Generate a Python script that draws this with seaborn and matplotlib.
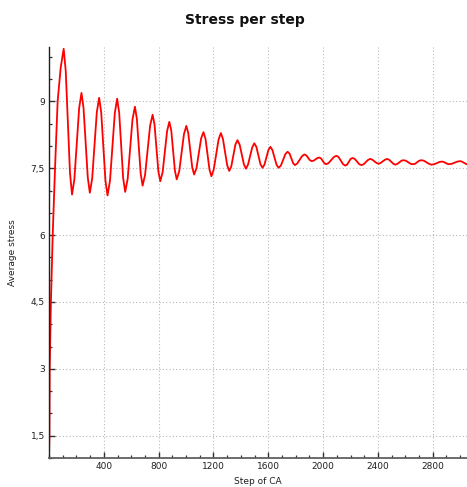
import matplotlib
matplotlib.use("Agg")
import matplotlib.pyplot as plt
from matplotlib.ticker import MultipleLocator, FixedLocator, FixedFormatter
import seaborn as sns
import pandas as pd

# Points (rise, peaks, troughs and flank points)
steps = [0, 3, 5, 14, 27, 44, 63, 85,
         107, 122, 153, 168, 185, 220, 237, 252,
         283, 298, 315, 349, 366, 381, 412, 427,
         445, 480, 497, 512, 541, 556, 574, 609,
         627, 641, 669, 683, 701, 738, 756, 770,
         798, 812, 829, 862, 878, 892, 919, 932,
         950, 985, 1002, 1016, 1045, 1059, 1076, 1110,
         1127, 1142, 1171, 1185, 1202, 1237, 1254, 1269,
         1300, 1315, 1330, 1360, 1375, 1391, 1422, 1437,
         1452, 1483, 1498, 1513, 1543, 1558, 1572, 1601,
         1615, 1630, 1660, 1675, 1692, 1725, 1741, 1755,
         1782, 1795, 1812, 1846, 1863, 1877, 1904, 1917,
         1931, 1959, 1973, 1985, 2010, 2022, 2041, 2078,
         2097, 2113, 2146, 2162, 2175, 2201, 2214, 2231,
         2264, 2280, 2296, 2329, 2345, 2360, 2389, 2404,
         2420, 2451, 2467, 2482, 2513, 2528, 2543, 2572,
         2586, 2603, 2638, 2655, 2671, 2702, 2717, 2735,
         2772, 2790, 2810, 2849, 2868, 2881, 2906, 2918,
         2939, 2980, 3000, 3012, 3047]
stress = [1.00, 1.50, 3.00, 4.50, 6.00, 7.50, 9.00, 9.75,
          10.18, 9.69, 7.40, 6.91, 7.25, 8.85, 9.19, 8.85,
          7.29, 6.95, 7.27, 8.76, 9.08, 8.75, 7.22, 6.89,
          7.22, 8.73, 9.06, 8.75, 7.28, 6.97, 7.26, 8.59,
          8.88, 8.61, 7.38, 7.11, 7.35, 8.46, 8.70, 8.48,
          7.43, 7.21, 7.41, 8.34, 8.54, 8.35, 7.44, 7.25,
          7.43, 8.27, 8.45, 8.29, 7.52, 7.36, 7.50, 8.17,
          8.31, 8.16, 7.47, 7.32, 7.47, 8.14, 8.29, 8.16,
          7.57, 7.44, 7.54, 8.03, 8.13, 8.03, 7.59, 7.49,
          7.58, 7.97, 8.06, 7.98, 7.59, 7.51, 7.58, 7.91,
          7.98, 7.91, 7.58, 7.51, 7.56, 7.82, 7.87, 7.83,
          7.61, 7.57, 7.61, 7.77, 7.81, 7.79, 7.68, 7.66,
          7.67, 7.73, 7.74, 7.72, 7.61, 7.59, 7.62, 7.75,
          7.78, 7.75, 7.59, 7.56, 7.58, 7.71, 7.73, 7.71,
          7.59, 7.57, 7.59, 7.69, 7.71, 7.69, 7.62, 7.60,
          7.62, 7.69, 7.71, 7.69, 7.60, 7.58, 7.60, 7.67,
          7.68, 7.67, 7.60, 7.59, 7.60, 7.67, 7.68, 7.67,
          7.60, 7.58, 7.59, 7.64, 7.65, 7.64, 7.60, 7.59,
          7.60, 7.65, 7.66, 7.65, 7.59]

x_ticks = [400, 800, 1200, 1600, 2000, 2400, 2800]
x_tick_labels = ["400", "800", "1200", "1600", "2000", "2400", "2800"]
y_ticks = [1.5, 3, 4.5, 6, 7.5, 9]
y_tick_labels = ["1,5", "3", "4,5", "6", "7,5", "9"]

df = pd.DataFrame({"step": steps, "stress": stress})

sns.set_theme(style="white")
plt.rcParams['font.family'] = ['DejaVu Sans']

fig = plt.figure(figsize=(4.67, 4.87), dpi=100)
ax = fig.add_axes([49 / 467, 29 / 487, 1 - 49 / 467, 411 / 487])

sns.lineplot(data=df, x="step", y="stress", ax=ax, color="#ff0000",
             linewidth=1.3, sort=False)

ax.set_xlim(0, 3050)
ax.set_ylim(1.0, 10.22)

ax.xaxis.set_major_locator(FixedLocator(x_ticks))
ax.xaxis.set_major_formatter(FixedFormatter(x_tick_labels))
ax.xaxis.set_minor_locator(MultipleLocator(100))
ax.yaxis.set_major_locator(FixedLocator(y_ticks))
ax.yaxis.set_major_formatter(FixedFormatter(y_tick_labels))
ax.yaxis.set_minor_locator(MultipleLocator(0.5))

ax.tick_params(which="major", direction="in", length=4, width=1.0,
               color="#303030", labelsize=6.5, labelcolor="#202020", pad=3)
ax.tick_params(which="minor", direction="in", length=2.2, width=0.9,
               color="#303030")
ax.tick_params(axis="x", which="both", bottom=True)
ax.tick_params(axis="y", which="both", left=True)

ax.grid(True, which="major", linestyle=(0, (1, 2)), color="#b8b8b8",
        linewidth=0.8)

for side in ["top", "right"]:
    ax.spines[side].set_visible(False)
ax.spines["left"].set_color("#202020")
ax.spines["left"].set_linewidth(1.0)
ax.spines["bottom"].set_color("#606060")
ax.spines["bottom"].set_linewidth(1.3)

ax.set_xlabel("Step of CA", fontsize=6.5, color="#202020", labelpad=4)
ax.set_ylabel("Average stress", fontsize=6.5, color="#202020", labelpad=10)

fig.text(245 / 467, 1 - 20 / 487, "Stress per step", ha="center",
         va="center", fontsize=10, fontweight="bold", color="#101010")

fig.savefig("out.png", dpi=100)
